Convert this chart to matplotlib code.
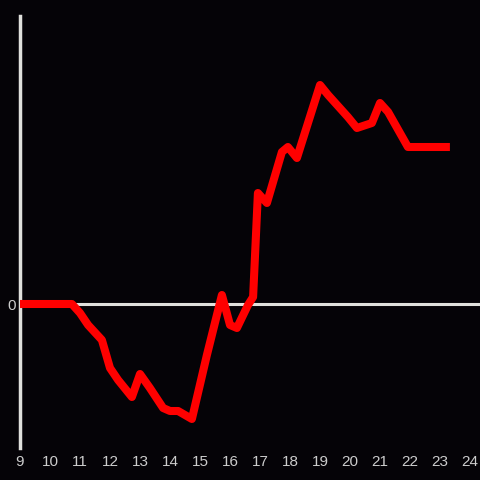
import matplotlib
matplotlib.use("Agg")
import matplotlib.pyplot as plt

hours = [9.0, 10.73, 11.0, 11.27, 11.73, 12.0, 12.27, 12.73, 13.0, 13.33, 13.77, 14.0,
         14.27, 14.73, 15.23, 15.73, 16.0, 16.23, 16.6, 16.77, 16.93, 17.23, 17.73,
         17.93, 18.23, 19.0, 19.27, 19.93, 20.23, 20.73, 21.0, 21.27, 21.93, 23.33]
values = [0, 0, -9, -21, -36, -64, -76, -93, -70, -84, -104, -107,
          -107, -115, -51, 9, -21, -24, -1, 7, 111, 101, 152,
          157, 146, 219, 209, 187, 176, 181, 201, 192, 157, 157]
xticks = list(range(9, 25))
yticks = [0]

bg = "#050307"
fig = plt.figure(figsize=(4.8, 4.8), dpi=100, facecolor=bg)
ax = fig.add_axes([20/480, 32/480, 460/480, 432/480], facecolor=bg)
ax.set_xlim(9, 24.333)
ax.set_ylim(-144, 288)
ax.axhline(0, color="#e0e0dc", lw=2.2, zorder=1)
ax.plot(hours, values, color="#ff0000", lw=5.8, solid_joinstyle="round",
        solid_capstyle="butt", zorder=3)

for s in ["top", "right", "bottom"]:
    ax.spines[s].set_visible(False)
ax.spines["left"].set_color("#e0e0dc")
ax.spines["left"].set_linewidth(2.5)
ax.set_xticks(xticks)
ax.set_xticklabels([str(t) for t in xticks])
ax.set_yticks(yticks)
ax.set_yticklabels(["0"])
ax.tick_params(axis="both", length=0, colors="#cccccc", labelsize=11)
ax.tick_params(axis="x", pad=5)
ax.tick_params(axis="y", pad=3)
for lab in ax.get_xticklabels() + ax.get_yticklabels():
    lab.set_fontfamily("Liberation Sans")

fig.savefig("out.png", dpi=100, facecolor=bg)
